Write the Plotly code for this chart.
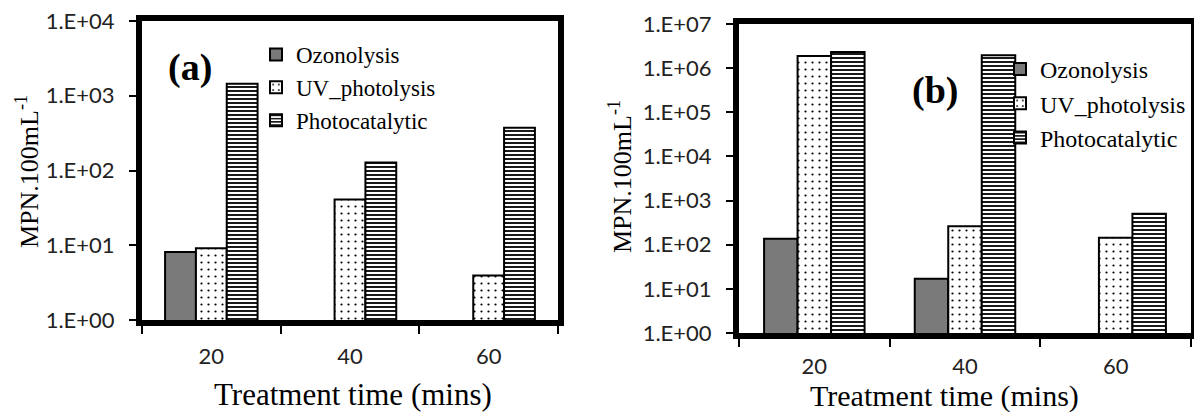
import plotly.graph_objects as go

# Treatment times (minutes) shared by both panels
categories = ["20", "40", "60"]

# Panel (a): MPN per 100 mL after treatment
a_ozonolysis = [8.1, None, None]
a_uv_photolysis = [9.1, 41, 3.95]
a_photocatalytic = [1450, 128, 374]

# Panel (b): MPN per 100 mL after treatment
b_ozonolysis = [137, 16.9, None]
b_uv_photolysis = [1.89e6, 263, 144]
b_photocatalytic = [2.32e6, 1.96e6, 505]

a_tickvals = [1, 10, 100, 1000, 10000]
a_ticktext = ["1.E+00", "1.E+01", "1.E+02", "1.E+03", "1.E+04"]
b_tickvals = [1, 10, 100, 1000, 1e4, 1e5, 1e6, 1e7]
b_ticktext = ["1.E+00", "1.E+01", "1.E+02", "1.E+03", "1.E+04", "1.E+05", "1.E+06", "1.E+07"]

W, H = 1194, 415
SERIF = "Liberation Serif"
SANS = "Lato"

series_styles = {
    "Ozonolysis": dict(color="#7a7a7a"),
    "UV_photolysis": dict(color="white",
                          pattern=dict(shape=".", fgcolor="black", bgcolor="white",
                                       size=7, solidity=0.08, fillmode="replace")),
    "Photocatalytic": dict(color="white",
                           pattern=dict(shape="-", fgcolor="black", bgcolor="white",
                                        size=4, solidity=0.45, fillmode="replace")),
}

fig = go.Figure()


def add_panel(values, xaxis, yaxis, legend):
    for name, vals in zip(series_styles, values):
        style = series_styles[name]
        marker = dict(color=style["color"], line=dict(color="black", width=2))
        if "pattern" in style:
            marker["pattern"] = style["pattern"]
        fig.add_trace(go.Bar(
            x=categories, y=vals, name=name, marker=marker,
            xaxis=xaxis, yaxis=yaxis, legend=legend, showlegend=True,
        ))


add_panel([a_ozonolysis, a_uv_photolysis, a_photocatalytic], "x", "y", "legend")
add_panel([b_ozonolysis, b_uv_photolysis, b_photocatalytic], "x2", "y2", "legend2")


def px(v):
    return v / W


def py(v):
    return 1 - v / H


axis_line = dict(showline=True, linecolor="black", linewidth=6, mirror=True,
                 showgrid=False, zeroline=False, automargin=False)
tick_font = dict(family=SANS, size=22, color="#222222")

xaxis_common = dict(axis_line, type="category", tickson="boundaries",
                    ticks="outside", ticklen=8, tickwidth=2, tickcolor="black",
                    tickfont=tick_font)
yaxis_common = dict(axis_line, type="log", ticks="outside", ticklen=7,
                    tickwidth=2, tickcolor="black", tickfont=tick_font,
                    ticklabelstandoff=10)

fig.update_layout(
    width=W, height=H,
    margin=dict(l=0, r=0, t=0, b=0, autoexpand=False),
    paper_bgcolor="white", plot_bgcolor="white",
    barmode="group", bargap=0.333, bargroupgap=0,
    xaxis=dict(xaxis_common, domain=[px(142), px(558)], anchor="y",
               ticklabelstandoff=12),
    yaxis=dict(yaxis_common, domain=[py(320), py(21)], anchor="x",
               range=[0, 4], tickvals=a_tickvals, ticktext=a_ticktext),
    xaxis2=dict(xaxis_common, domain=[px(739), px(1191)], anchor="y2",
                ticklabelstandoff=9),
    yaxis2=dict(yaxis_common, domain=[py(333), py(24)], anchor="x2",
                range=[0, 7], tickvals=b_tickvals, ticktext=b_ticktext),
    legend=dict(x=px(256), y=py(33), xanchor="left", yanchor="top",
                bgcolor="rgba(0,0,0,0)", font=dict(family=SERIF, size=23, color="black"),
                traceorder="normal", itemclick=False),
    legend2=dict(x=px(1000), y=py(47), xanchor="left", yanchor="top",
                 bgcolor="rgba(0,0,0,0)", font=dict(family=SERIF, size=24, color="black"),
                 traceorder="normal", itemclick=False),
)

annotations = [
    dict(text="<b>(a)</b>", x=px(190), y=py(67), font=dict(family=SERIF, size=38, color="black")),
    dict(text="<b>(b)</b>", x=px(935), y=py(90), font=dict(family=SERIF, size=38, color="black")),
    dict(text="Treatment time (mins)", x=px(353), y=py(394), font=dict(family=SERIF, size=31, color="black")),
    dict(text="Treatment time (mins)", x=px(944), y=py(396), font=dict(family=SERIF, size=30, color="black")),
    dict(text="MPN.100mL<sup>-1</sup>", x=px(27), y=py(172), textangle=-90,
         font=dict(family=SERIF, size=26, color="black")),
    dict(text="MPN.100mL<sup>-1</sup>", x=px(620), y=py(177), textangle=-90,
         font=dict(family=SERIF, size=26, color="black")),
]
for ann in annotations:
    fig.add_annotation(xref="paper", yref="paper", showarrow=False,
                       xanchor="center", yanchor="middle", **ann)

fig.write_html("out.html")
